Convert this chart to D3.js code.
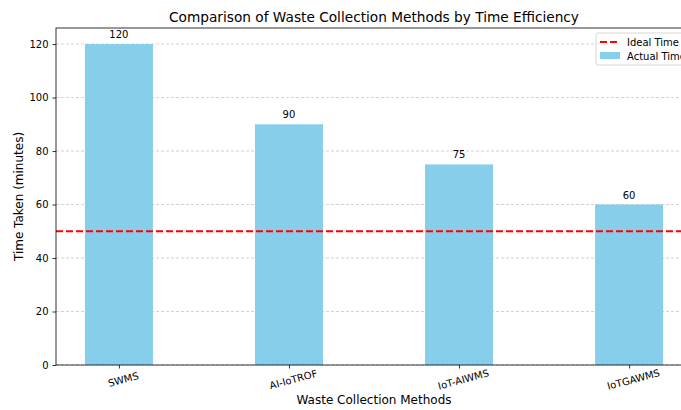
<!DOCTYPE html>
<html><head><meta charset="utf-8">
<script src="https://cdn.jsdelivr.net/npm/d3@7"></script>
<style>body{margin:0;background:#fff;font-family:"DejaVu Sans",sans-serif;}</style>
</head><body><svg id="c" width="681" height="410"></svg>
<script>
const categories = ["SWMS", "AI-IoTROF", "IoT-AIWMS", "IoTGAWMS"];
const actualTimes = [120, 90, 75, 60];
const idealTime = 50;
const yTicks = [0, 20, 40, 60, 80, 100, 120];
const title = "Comparison of Waste Collection Methods by Time Efficiency";
const xLabel = "Waste Collection Methods";
const yLabel = "Time Taken (minutes)";
const legendLabels = ["Ideal Time", "Actual Time"];

const svg = d3.select("#c");
const L = 56, R = 692, T = 28, B = 365;
const x = d3.scaleLinear().domain([-0.37, 3.37]).range([L, R]);
const y = d3.scaleLinear().domain([0, 126]).range([B, T]);
const barW = x(0.4) - x(0);

// grid
svg.append("g").selectAll("line").data(yTicks).join("line")
  .attr("x1", L).attr("x2", R).attr("y1", d => y(d)).attr("y2", d => y(d))
  .attr("stroke", "#b0b0b0").attr("stroke-width", 0.8).attr("stroke-dasharray", "3,2").attr("opacity", 0.7);

// bars
svg.append("g").selectAll("rect").data(actualTimes).join("rect")
  .attr("x", (d, i) => x(i) - barW / 2).attr("width", barW)
  .attr("y", d => y(d)).attr("height", d => B - y(d)).attr("fill", "#87ceeb");

// value labels
svg.append("g").selectAll("text").data(actualTimes).join("text")
  .attr("x", (d, i) => x(i)).attr("y", d => y(d) - 6)
  .attr("text-anchor", "middle").attr("font-size", 10).attr("fill", "#000").text(d => d);

// ideal line
svg.append("line").attr("x1", L).attr("x2", R).attr("y1", y(idealTime)).attr("y2", y(idealTime))
  .attr("stroke", "#ff0000").attr("stroke-width", 2).attr("stroke-dasharray", "7,3");

// axes
const yAxis = svg.append("g").attr("transform", `translate(${L},0)`)
  .call(d3.axisLeft(y).tickValues(yTicks).tickSize(3.5).tickPadding(4));
const xAxis = svg.append("g").attr("transform", `translate(0,${B})`)
  .call(d3.axisBottom(x).tickValues(d3.range(categories.length)).tickFormat(i => categories[i]).tickSize(3.5).tickPadding(4));
[yAxis, xAxis].forEach(g => {
  g.select(".domain").remove();
  g.selectAll("line").attr("stroke", "#000").attr("stroke-width", 0.8);
  g.selectAll("text").attr("font-family", "DejaVu Sans").attr("font-size", 10).attr("fill", "#000");
});
xAxis.selectAll("text").attr("transform", "rotate(-15)").attr("dy", "1.1em");

// spines
svg.append("rect").attr("x", L).attr("y", T).attr("width", R - L).attr("height", B - T)
  .attr("fill", "none").attr("stroke", "#000").attr("stroke-width", 0.8);

// labels
svg.append("text").attr("x", 374).attr("y", 22).attr("text-anchor", "middle")
  .attr("font-size", 13.7).text(title);
svg.append("text").attr("x", 374).attr("y", 404).attr("text-anchor", "middle")
  .attr("font-size", 12).text(xLabel);
svg.append("text").attr("transform", `translate(23,${(T + B) / 2}) rotate(-90)`).attr("text-anchor", "middle")
  .attr("font-size", 12).text(yLabel);

// legend
const lg = svg.append("g").attr("transform", "translate(596,33)");
lg.append("rect").attr("width", 100).attr("height", 32).attr("rx", 2).attr("fill", "#fff").attr("fill-opacity", 0.8)
  .attr("stroke", "#ccc").attr("stroke-width", 0.8);
lg.append("line").attr("x1", 4).attr("x2", 24).attr("y1", 9).attr("y2", 9)
  .attr("stroke", "#ff0000").attr("stroke-width", 2).attr("stroke-dasharray", "7,3");
lg.append("rect").attr("x", 4).attr("y", 19).attr("width", 20).attr("height", 7).attr("fill", "#87ceeb");
lg.selectAll("text").data(legendLabels).join("text")
  .attr("x", 31).attr("y", (d, i) => 12.5 + i * 14).attr("font-size", 10).text(d => d);
</script></body></html>
